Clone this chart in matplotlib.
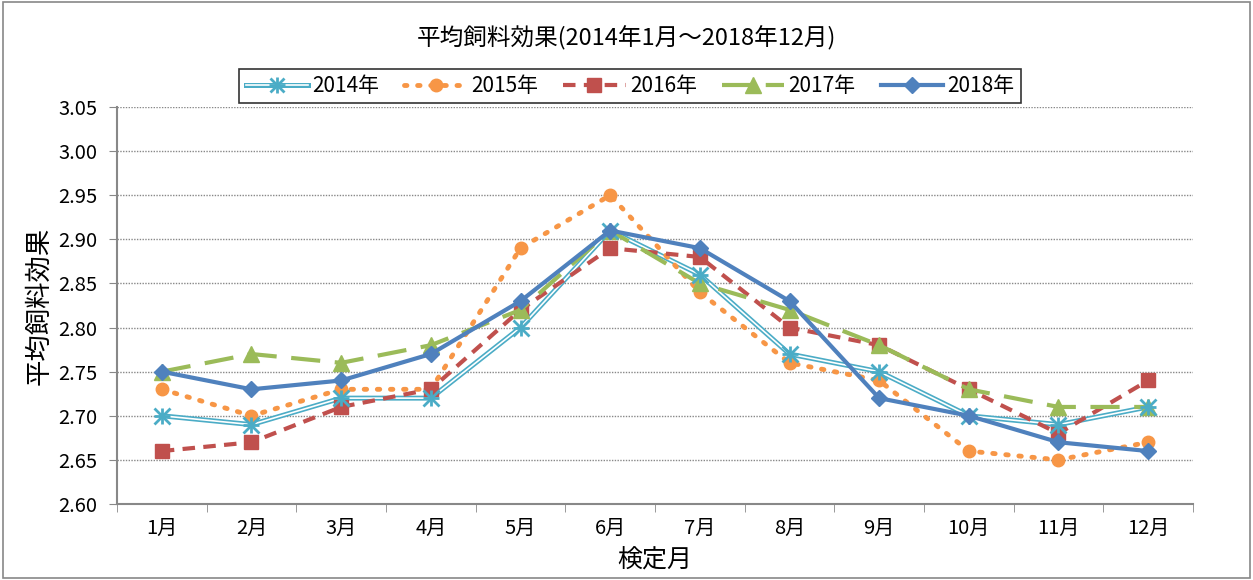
import matplotlib
matplotlib.use("Agg")
import matplotlib.pyplot as plt
import numpy as np
from matplotlib.lines import Line2D
from matplotlib.legend_handler import HandlerTuple
from matplotlib.patches import Rectangle

plt.rcParams['font.family'] = ['Noto Sans CJK JP', 'DejaVu Sans']

months = ["1月", "2月", "3月", "4月", "5月", "6月", "7月", "8月", "9月", "10月", "11月", "12月"]
y2014 = [2.70, 2.69, 2.72, 2.72, 2.80, 2.91, 2.86, 2.77, 2.75, 2.70, 2.69, 2.71]
y2015 = [2.73, 2.70, 2.73, 2.73, 2.89, 2.95, 2.84, 2.76, 2.74, 2.66, 2.65, 2.67]
y2016 = [2.66, 2.67, 2.71, 2.73, 2.82, 2.89, 2.88, 2.80, 2.78, 2.73, 2.68, 2.74]
y2017 = [2.75, 2.77, 2.76, 2.78, 2.82, 2.91, 2.85, 2.82, 2.78, 2.73, 2.71, 2.71]
y2018 = [2.75, 2.73, 2.74, 2.77, 2.83, 2.91, 2.89, 2.83, 2.72, 2.70, 2.67, 2.66]

c14 = '#4bacc6'
c15 = '#f79646'
c16 = '#c0504d'
c17 = '#9bbb59'
c18 = '#4f81bd'

fig = plt.figure(figsize=(12.53, 5.80), dpi=100)
ax = fig.add_axes([117/1253, 1 - 504/580, (1193-117)/1253, (504-107)/580])
x = np.arange(len(months))

# 2014: double line
ax.plot(x, y2014, color=c14, lw=3.6, zorder=3)
ax.plot(x, y2014, color='white', lw=1.2, zorder=3)
ax.plot(x, y2014, ls='none', marker='x', color=c14, ms=11, mew=2, zorder=4)
ax.plot(x, y2014, ls='none', marker='+', color=c14, ms=12, mew=2, zorder=4)

ax.plot(x, y2015, color=c15, lw=3.5, ls=(0, (0.5, 2.2)), dash_capstyle='round',
        marker='o', ms=9, zorder=3)
ax.plot(x, y2016, color=c16, lw=3, ls=(0, (3, 2)), marker='s', ms=10, zorder=3)
ax.plot(x, y2017, color=c17, lw=3, ls=(0, (7, 3.5)), marker='^', ms=11, zorder=3)
ax.plot(x, y2018, color=c18, lw=3, marker='D', ms=8, zorder=5)

ax.set_xlim(-0.5, 11.5)
ax.set_ylim(2.60, 3.05)
ax.set_yticks(np.arange(2.60, 3.051, 0.05))
ax.set_yticklabels([f"{v:.2f}" for v in np.arange(2.60, 3.051, 0.05)], fontsize=14.5)
ax.set_xticks(x)
ax.set_xticklabels(months, fontsize=14.5)
ax.set_xticks(np.arange(-0.5, 12, 1), minor=True)
ax.tick_params(axis='x', which='major', length=0, pad=10)
ax.tick_params(axis='x', which='minor', length=6, color='#888888')
ax.tick_params(axis='y', length=6, color='#888888', pad=8)
ax.grid(axis='y', ls=(0, (1, 1)), color='#888888', lw=1)
ax.set_axisbelow(True)
for s in ['top', 'right']:
    ax.spines[s].set_visible(False)
for s in ['left', 'bottom']:
    ax.spines[s].set_color('#888888')
    ax.spines[s].set_linewidth(1.5)

ax.set_ylabel("平均飼料効果", fontsize=19, labelpad=4)
ax.set_xlabel("検定月", fontsize=18, labelpad=6)
fig.text(0.5, 1 - 38/580, "平均飼料効果(2014年1月～2018年12月)", ha='center', va='center', fontsize=17)

h14 = (Line2D([], [], color=c14, lw=3.6), Line2D([], [], color='white', lw=1.2),
       Line2D([], [], ls='none', marker='x', color=c14, ms=10, mew=2),
       Line2D([], [], ls='none', marker='+', color=c14, ms=11, mew=2))
h15 = Line2D([], [], color=c15, lw=3.5, ls=(0, (0.5, 2.2)), dash_capstyle='round', marker='o', ms=9)
h16 = Line2D([], [], color=c16, lw=3, ls=(0, (3, 2)), marker='s', ms=10)
h17 = Line2D([], [], color=c17, lw=3, ls=(0, (7, 3.5)), marker='^', ms=11)
h18 = Line2D([], [], color=c18, lw=3, marker='D', ms=8)
leg = fig.legend([h14, h15, h16, h17, h18], ["2014年", "2015年", "2016年", "2017年", "2018年"],
                 handler_map={tuple: HandlerTuple(ndivide=1, pad=0)},
                 loc='center', bbox_to_anchor=(630/1253, 1 - 86/580), ncol=5, fontsize=15,
                 frameon=True, fancybox=False, edgecolor='black', handlelength=3.0,
                 columnspacing=1.2, handletextpad=0.2, borderpad=0.3)
leg.get_frame().set_linewidth(1.2)

fig.patches.append(Rectangle((0.002, 0.003), 0.996, 0.994, transform=fig.transFigure,
                             fill=False, edgecolor='#888888', lw=1.2))

fig.savefig("out.png", dpi=100)
